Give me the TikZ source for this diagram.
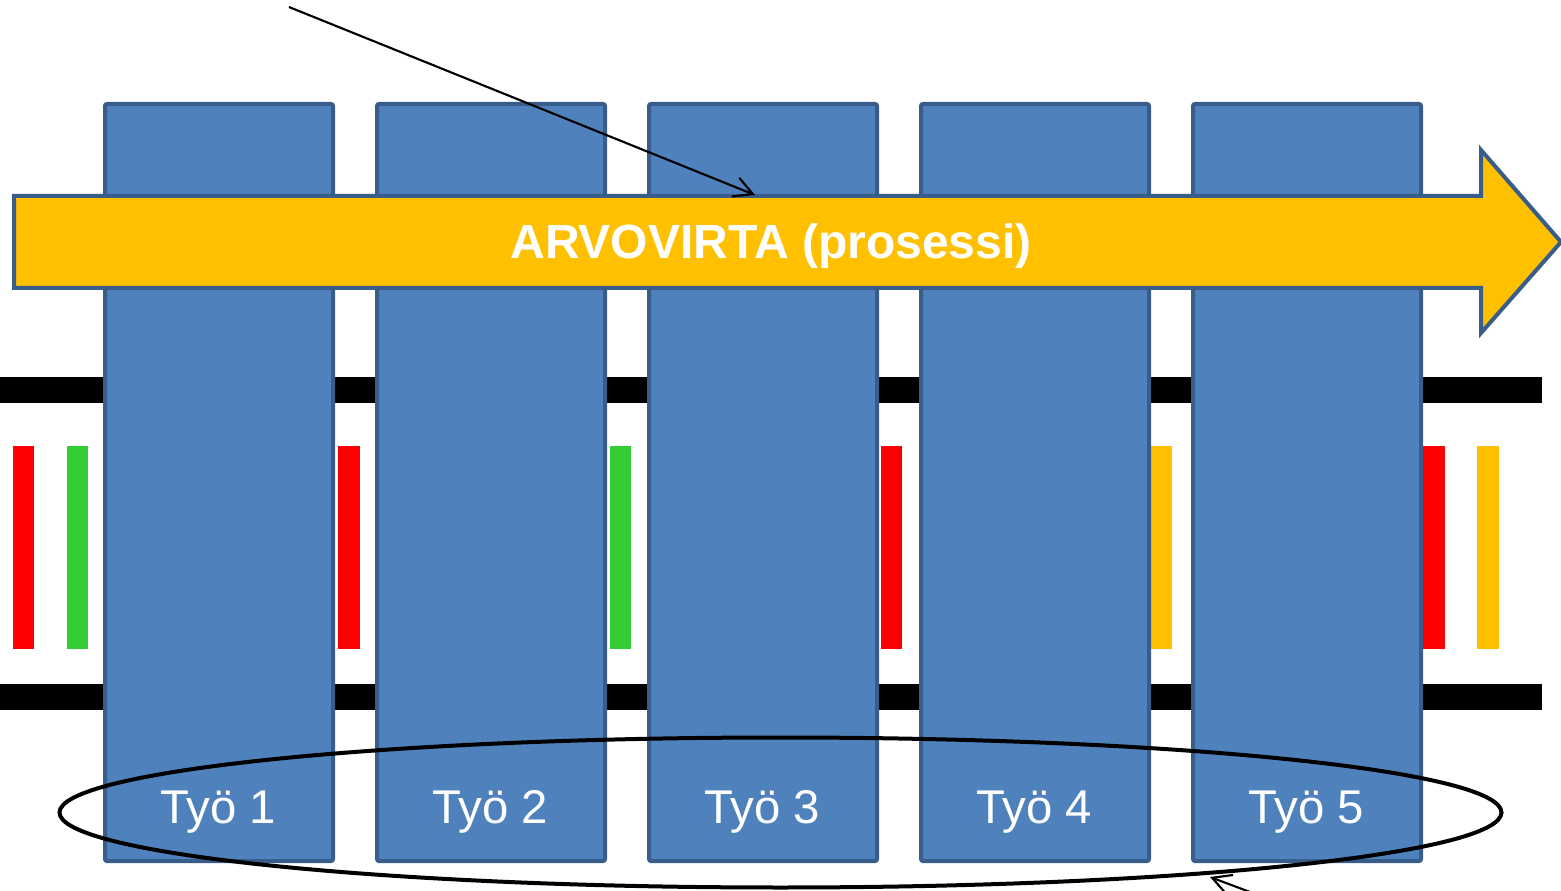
\documentclass[tikz,border=0pt]{standalone}
\usepackage{fontspec}
\setmainfont{Liberation Sans}
\usetikzlibrary{arrows.meta}

\definecolor{tyoblue}{HTML}{4F81BD}
\definecolor{tyoedge}{HTML}{385D8A}
\definecolor{virtayellow}{HTML}{FFC000}
\definecolor{okgreen}{HTML}{33CC33}
\definecolor{stopred}{HTML}{FF0000}

\tikzset{
  rail/.style={fill=black,draw=none},
  tyobox/.style={fill=tyoblue,draw=tyoedge,line width=3pt,rounded corners=1.5pt},
  tyolabel/.style={text=white,font=\fontsize{35.5}{40}\selectfont,inner sep=0.75pt},
  pointer/.style={draw=black,line width=1.6pt,-{Straight Barb[length=14pt,width=15pt,line width=1.6pt]}}
}

\begin{document}
\begin{tikzpicture}[x=0.75pt,y=0.75pt,yscale=-1,xscale=1]
    \useasboundingbox (0,0) rectangle (1561,891); %reference frame

    %Rails [id:rail_top]
    \fill[rail] (0,377) rectangle (1542,403) ;
    %Rails [id:rail_bottom]
    \fill[rail] (0,684) rectangle (1542,710) ;

    %Status bars
    \fill[stopred] (13,446) rectangle (34,649) ;
    \fill[okgreen] (67,446) rectangle (88,649) ;
    \fill[stopred] (338,446) rectangle (360,649) ;
    \fill[okgreen] (610,446) rectangle (631,649) ;
    \fill[stopred] (881,446) rectangle (902,649) ;
    \fill[virtayellow] (1150,446) rectangle (1172,649) ;
    \fill[stopred] (1420,446) rectangle (1445,649) ;
    \fill[virtayellow] (1477,446) rectangle (1499,649) ;

    %Shape: Rectangle [id:tyo1]
    \draw[tyobox] (105,104) rectangle (333,861) ;
    %Shape: Rectangle [id:tyo2]
    \draw[tyobox] (377,104) rectangle (605,861) ;
    %Shape: Rectangle [id:tyo3]
    \draw[tyobox] (649,104) rectangle (877,861) ;
    %Shape: Rectangle [id:tyo4]
    \draw[tyobox] (921,104) rectangle (1149,861) ;
    %Shape: Rectangle [id:tyo5]
    \draw[tyobox] (1193,104) rectangle (1421,861) ;

    %Shape: Right Arrow [id:arvovirta]
    \draw[fill=virtayellow,draw=tyoedge,line width=3pt]
      (14,196) -- (1481,196) -- (1481,150) -- (1561,242) -- (1481,333) -- (1481,288) -- (14,288) -- cycle ;

    % Text Node
    \node[text=white,font=\fontsize{36}{42}\selectfont\bfseries,inner sep=0.75pt] (virta) at (771,246) {ARVOVIRTA (prosessi)};

    % Text Node
    \node[tyolabel] (lbl1) at (218,812) {Työ 1};
    % Text Node
    \node[tyolabel] (lbl2) at (490,812) {Työ 2};
    % Text Node
    \node[tyolabel] (lbl3) at (762,812) {Työ 3};
    % Text Node
    \node[tyolabel] (lbl4) at (1034,812) {Työ 4};
    % Text Node
    \node[tyolabel] (lbl5) at (1306,812) {Työ 5};

    %Shape: Ellipse [id:tyoringas]
    \draw[line width=3pt] (780.5,812.5) ellipse (721 and 75) ;

    %Pointers
    \coordinate (topstart) at (289,7) ;
    \coordinate (toptip) at (755,195) ;
    \coordinate (botstart) at (1290,907) ;
    \coordinate (bottip) at (1210,877) ;
    \draw[pointer] (topstart) -- (toptip) ;
    \draw[pointer] (botstart) -- (bottip) ;

\end{tikzpicture}
\end{document}
